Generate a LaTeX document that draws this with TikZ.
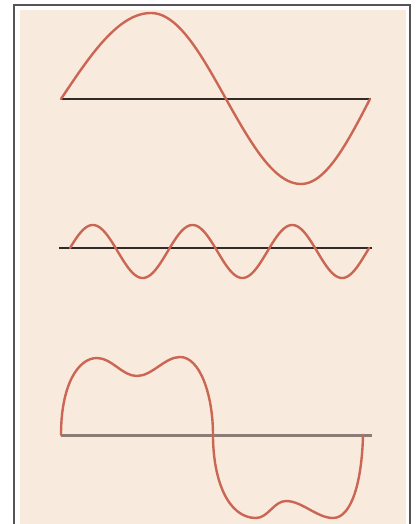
\documentclass[tikz,border=0pt]{standalone}
\usepackage{tikz}
\definecolor{panelbg}{RGB}{248,234,220}
\definecolor{wavered}{RGB}{204,102,84}
\definecolor{axisdark}{RGB}{48,42,40}
\definecolor{axisgray}{RGB}{138,124,118}
\definecolor{framegray}{RGB}{85,85,85}
\begin{document}
\begin{tikzpicture}[x=1pt,y=-1pt,
    wave/.style={draw=wavered,line width=2.4pt,line join=round,line cap=round},
    axisline/.style={draw=axisdark,line width=1.8pt},
    axisthick/.style={draw=axisgray,line width=3pt}]
  \useasboundingbox (0,0) rectangle (416,524);
  \fill[white] (0,0) rectangle (416,524);
  \draw[framegray,line width=2pt] (14,524) -- (14,5) -- (410,5) -- (410,524);
  \fill[panelbg] (20,10) rectangle (406,524);

  \draw[axisline] (61,99) -- (371,99);
  \draw[wave] plot[domain=0:90,samples=30] ({61+\x},{99-86*sin(\x)})
    -- plot[domain=90:180,samples=30] ({151+(\x-90)*75/90},{99-86*sin(\x)})
    -- plot[domain=180:270,samples=30] ({226+(\x-180)*75/90},{99-85*sin(\x)})
    -- plot[domain=270:360,samples=30] ({301+(\x-270)*69/90},{99-85*sin(\x)});

  \draw[axisline] (59,248) -- (372,248);
  \draw[wave] plot[domain=7.6:1087.6,samples=240] ({67.9+\x/360*99.7},{251.5-26.5*sin(\x)});

  \draw[axisthick] (61,435) -- (372,435);
  \draw[wave] (61,435) .. controls (61,385) and (78,358) .. (97,358)
    .. controls (112,358) and (122,376) .. (137,376)
    .. controls (152,376) and (165,357) .. (180,357)
    .. controls (200,357) and (213,395) .. (213,435)
    .. controls (213,480) and (228,518) .. (256,518)
    .. controls (268,518) and (274,501) .. (286,501)
    .. controls (302,501) and (317,518) .. (333,518)
    .. controls (352,518) and (362,480) .. (363,435);
\end{tikzpicture}
\end{document}
